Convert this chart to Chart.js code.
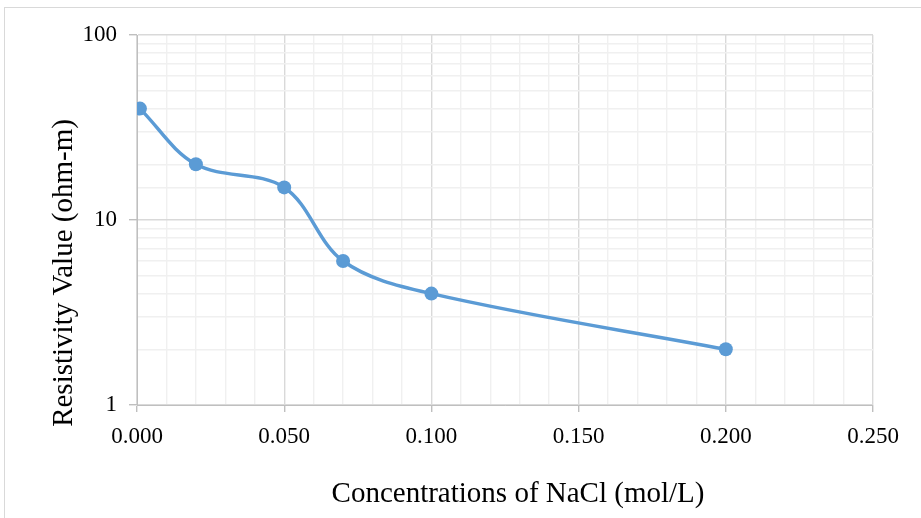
<!DOCTYPE html>
<html>
<head>
<meta charset="utf-8">
<script src="https://cdn.jsdelivr.net/npm/chart.js@4"></script>
<style>
  html, body { margin: 0; padding: 0; background: #fff; }
  #wrap { position: relative; width: 921px; height: 518px; overflow: hidden; }
  #frame { position: absolute; left: 4px; top: 7px; width: 1000px; height: 600px; border: 1px solid #d9d9d9; box-sizing: border-box; }
  #chart { position: absolute; left: 0; top: 0; }
</style>
</head>
<body>
<div id="wrap">
  <div id="frame"></div>
  <canvas id="chart" width="921" height="518"></canvas>
</div>
<script>
const concentrations = [0.001, 0.02, 0.05, 0.07, 0.1, 0.2];
const resistivity = [40, 20, 15, 6, 4, 2];
const yTickLabels = [1, 10, 100];
const xMajorStep = 0.05;
const xTitle = "Concentrations of NaCl (mol/L)";
const yTitle = "Resistivity Value (ohm-m)";

const points = concentrations.map((x, i) => ({ x: x, y: resistivity[i] }));

const isMajorX = v => Math.abs(v / xMajorStep - Math.round(v / xMajorStep)) < 1e-6;
const isMajorY = v => yTickLabels.some(t => Math.abs(v - t) < 1e-9);

// axis titles sit off-centre in the original, so draw them by hand
const axisTitles = {
  id: "axisTitles",
  afterDraw(chart) {
    const c = chart.ctx;
    c.save();
    c.fillStyle = "#000";
    c.font = "29px 'Liberation Serif'";
    c.textAlign = "center";
    c.textBaseline = "middle";
    c.fillText(xTitle, 518, 494);
    c.translate(64, 273);
    c.rotate(-Math.PI / 2);
    c.fillText(yTitle, 0, 0);
    c.restore();
  }
};

const ctx = document.getElementById("chart").getContext("2d");

new Chart(ctx, {
  type: "line",
  data: {
    datasets: [{
      data: points,
      borderColor: "#5b9bd5",
      backgroundColor: "#5b9bd5",
      borderWidth: 3.5,
      tension: 0.35,
      pointRadius: 7,
      pointBackgroundColor: "#5b9bd5",
      pointBorderColor: "#5b9bd5",
      pointBorderWidth: 0,
      fill: false
    }]
  },
  plugins: [axisTitles],
  options: {
    responsive: false,
    animation: false,
    devicePixelRatio: 1,
    layout: { padding: { top: 35, right: 48, left: 0, bottom: 0 } },
    plugins: { legend: { display: false }, tooltip: { enabled: false } },
    scales: {
      x: {
        type: "linear",
        min: 0,
        max: 0.25,
        ticks: {
          stepSize: 0.01,
          autoSkip: false,
          maxRotation: 0,
          padding: 11,
          color: "#000",
          font: { family: "Liberation Serif", size: 23 },
          callback: v => isMajorX(v) ? v.toFixed(3) : ""
        },
        grid: {
          color: c => isMajorX(c.tick.value) ? "#d9d9d9" : "#f0f0f0",
          tickColor: c => isMajorX(c.tick.value) ? "#bfbfbf" : "rgba(0,0,0,0)",
          tickLength: 7,
          lineWidth: 1.4
        },
        border: { color: "#bfbfbf" },
        afterFit: s => { s.height = 113; }
      },
      y: {
        type: "logarithmic",
        min: 1,
        max: 100,
        ticks: {
          autoSkip: false,
          padding: 12,
          color: "#000",
          font: { family: "Liberation Serif", size: 23 },
          callback: v => isMajorY(v) ? String(v) : ""
        },
        grid: {
          color: c => isMajorY(c.tick.value) ? "#d9d9d9" : "#f0f0f0",
          tickColor: c => isMajorY(c.tick.value) ? "#bfbfbf" : "rgba(0,0,0,0)",
          tickLength: 8,
          lineWidth: 1.4
        },
        border: { color: "#bfbfbf" },
        afterFit: s => { s.width = 137; }
      }
    }
  }
});
</script>
</body>
</html>
